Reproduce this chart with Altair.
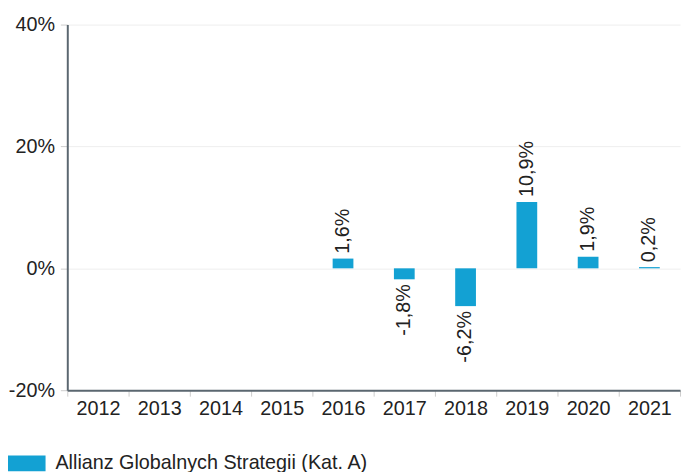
import altair as alt
import pandas as pd

years = ["2012", "2013", "2014", "2015", "2016", "2017", "2018", "2019", "2020", "2021"]
values = [None, None, None, None, 1.6, -1.8, -6.2, 10.9, 1.9, 0.2]
series = "Allianz Globalnych Strategii (Kat. A)"

df = pd.DataFrame({"year": years, "value": values})
df["series"] = series
df["label"] = df["value"].map(lambda v: "" if pd.isna(v) else (f"{v:.1f}".replace(".", ",") + "%"))
dfv = df.dropna(subset=["value"])

FONT = "Liberation Sans"
COLOR = "#13a1d3"
FS = 20

x = alt.X("year:N", sort=years, title=None,
          scale=alt.Scale(domain=years, paddingInner=0, paddingOuter=0),
          axis=alt.Axis(labelAngle=0, labelFontSize=FS, labelColor="#222", labelFont=FONT,
                        domainColor="#5b6770", domainWidth=2, tickColor="#cccccc",
                        tickSize=6, tickBand="extent", labelPadding=3, grid=False))
y = alt.Y("value:Q", title=None,
          scale=alt.Scale(domain=[-20, 40], nice=False, zero=False),
          axis=alt.Axis(values=[-20, 0, 20, 40], labelExpr="datum.value + '%'",
                        labelFontSize=FS, labelColor="#222", labelFont=FONT,
                        domainColor="#5b6770", domainWidth=2, tickColor="#cccccc",
                        tickSize=7, gridColor="#eeeeee", labelPadding=6))

bars = alt.Chart(dfv).mark_bar(size=21).encode(
    x=x, y=y,
    color=alt.Color("series:N", scale=alt.Scale(domain=[series], range=[COLOR]),
                    legend=alt.Legend(title=None, orient="none", legendX=-60, legendY=425,
                                      symbolType="M-1,-0.42H1V0.42H-1Z", symbolSize=1444,
                                      symbolStrokeWidth=0, symbolOpacity=1,
                                      labelFontSize=FS, labelFont=FONT, labelColor="#222",
                                      labelOffset=10, labelLimit=0)),
)

pos = alt.Chart(dfv[dfv["value"] >= 0]).mark_text(
    angle=270, align="left", baseline="middle", dx=5, fontSize=FS, font=FONT, color="#222"
).encode(x=alt.X("year:N", sort=years), y="value:Q", text="label:N")

neg = alt.Chart(dfv[dfv["value"] < 0]).mark_text(
    angle=270, align="right", baseline="middle", dx=-5, fontSize=FS, font=FONT, color="#222"
).encode(x=alt.X("year:N", sort=years), y="value:Q", text="label:N")

chart = alt.layer(bars, pos, neg).properties(
    width=620, height=370,
    autosize=alt.AutoSizeParams(type="none"),
    padding={"left": 60, "top": 14, "right": 2, "bottom": 80},
).configure_view(stroke=None)

chart.save("out.html", embed_options={"renderer": "svg", "actions": False})
